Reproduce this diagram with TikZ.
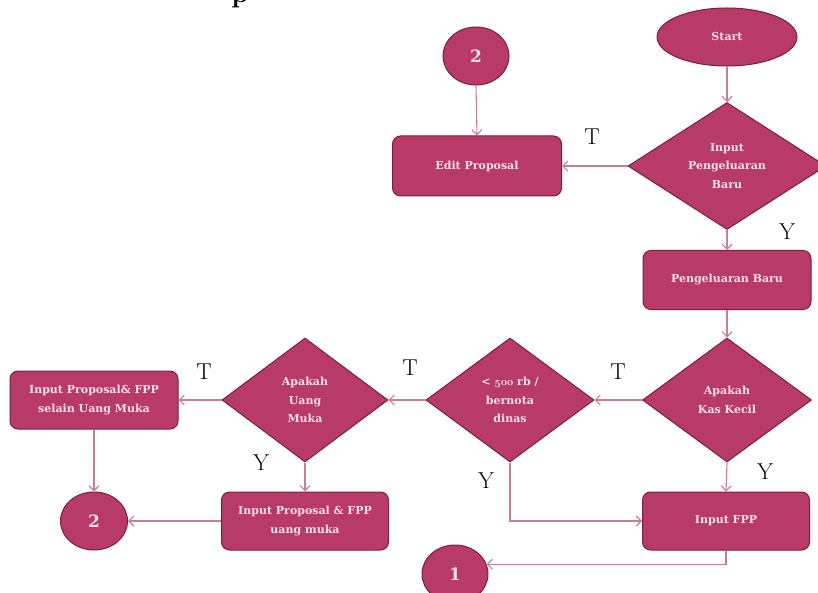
\documentclass[tikz,border=0pt]{standalone}
\usepackage{fontspec}
\newfontfamily\boxfont{DejaVu Serif}
\usetikzlibrary{shapes.geometric,arrows.meta}
\definecolor{boxfill}{RGB}{183,58,104}
\definecolor{boxline}{RGB}{125,30,65}
\definecolor{boxtext}{RGB}{252,224,234}
\definecolor{wire}{RGB}{200,125,155}
% old-style figures taken from the math italic font
\newcommand{\osfig}[1]{{\usefont{OML}{cmm}{b}{it}#1}}
\tikzset{
  base/.style={fill=boxfill, draw=boxline, line width=1pt, text=boxtext,
    font=\boxfont\fontsize{11}{18.5}\selectfont\bfseries, align=center, inner sep=0pt},
  procbox/.style={base, rectangle, rounded corners=8pt},
  decision/.style={base, diamond},
  terminal/.style={base, ellipse},
  connector/.style={base, ellipse, font=\boxfont\fontsize{17}{19}\selectfont\bfseries},
  arr/.style={draw=wire, line width=1.1pt, -{Straight Barb[length=5pt,width=10pt]}},
  lbl/.style={font=\fontsize{23}{25}\selectfont, text=black, inner sep=0pt}
}
\begin{document}
\begin{tikzpicture}[x=1pt,y=-1pt]
\useasboundingbox (0,0) rectangle (818,593);
\clip (0,0) rectangle (818,593);
\fill[white] (0,0) rectangle (818,593);

% heading cut off at the top edge
\node[anchor=base, font=\fontsize{28}{30}\selectfont\bfseries, inner sep=0pt] (head) at (240,3) {p};

% upper column
\node[terminal, minimum width=140pt, minimum height=58pt] (start) at (727,37) {Start};
\node[decision, minimum width=198pt, minimum height=127pt] (d1) at (727,166) {Input\\Pengeluaran\\Baru};
\node[connector, minimum width=66pt, minimum height=58pt] (c2a) at (476,56) {2};
\node[procbox, minimum width=169pt, minimum height=60pt] (edit) at (477,166) {Edit Proposal};
\node[procbox, minimum width=168pt, minimum height=59pt] (pb) at (727,280) {Pengeluaran Baru};

% decision row
\node[decision, minimum width=169pt, minimum height=124pt] (d2) at (727,400) {Apakah\\Kas Kecil};
\node[decision, minimum width=168pt, minimum height=124pt] (d3) at (510,400) {< \osfig{500} rb /\\bernota\\dinas};
\node[decision, minimum width=166pt, minimum height=124pt] (d4) at (305,400) {Apakah\\Uang\\Muka};
\node[procbox, minimum width=168pt, minimum height=58pt] (rsel) at (94,400) {Input Proposal\& FPP\\selain Uang Muka};

% bottom row
\node[procbox, minimum width=167pt, minimum height=58pt] (fpp) at (726,521) {Input FPP};
\node[procbox, minimum width=167pt, minimum height=58pt] (rum) at (305,521) {Input Proposal \& FPP\\uang muka};
\node[connector, minimum width=67pt, minimum height=58pt] (c2b) at (94,521) {2};
\node[connector, minimum width=66pt, minimum height=58pt] (c1) at (455,574) {1};

% flow
\draw[arr] (start.south) -- (d1.north);
\draw[arr] (c2a.south) -- (edit.north);
\draw[arr] (d1.west) -- (edit.east);
\draw[arr] (d1.south) -- (pb.north);
\draw[arr] (pb.south) -- (d2.north);
\draw[arr] (d2.west) -- (d3.east);
\draw[arr] (d2.south) -- (fpp.north);
\draw[arr] (d3.south) |- (fpp.west);
\draw[arr] (fpp.south) |- (c1.17);
\draw[arr] (d3.west) -- (d4.east);
\draw[arr] (d4.west) -- (rsel.east);
\draw[arr] (d4.south) -- (rum.north);
\draw[arr] (rsel.south) -- (c2b.north);
\draw[arr] (rum.west) -- (c2b.east);

% branch labels
\node[lbl] (t1) at (592,137) {T};
\node[lbl] (y1) at (787,232) {Y};
\node[lbl] (t2) at (618,372) {T};
\node[lbl] (y2) at (765,472) {Y};
\node[lbl] (y3) at (486,481) {Y};
\node[lbl] (t3) at (410,368) {T};
\node[lbl] (t4) at (204,372) {T};
\node[lbl] (y4) at (261,463) {Y};
\end{tikzpicture}
\end{document}
